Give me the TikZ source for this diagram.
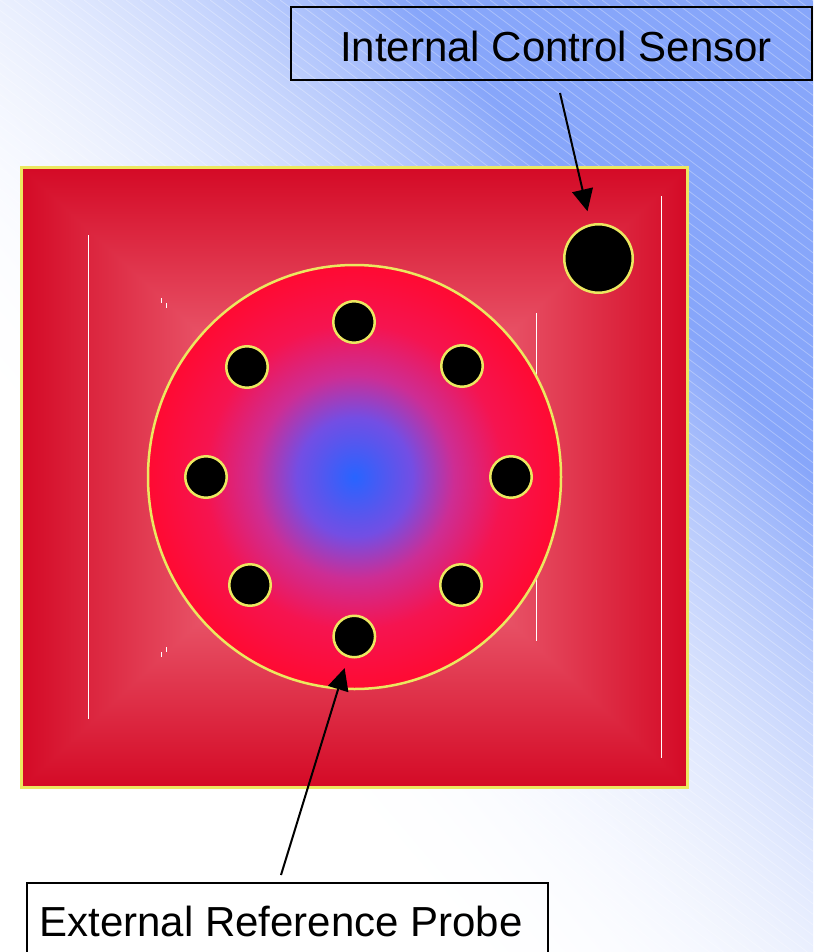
\documentclass[tikz,border=0pt]{standalone}
\usepackage{fontspec}
\setmainfont{Liberation Sans}
\usetikzlibrary{arrows.meta}
\definecolor{ylw}{RGB}{236,232,96}
\definecolor{cblue}{RGB}{40,100,255}
\definecolor{cviol}{RGB}{115,78,228}
\definecolor{cmag}{RGB}{205,45,148}
\definecolor{cpink}{RGB}{245,20,80}
\definecolor{cred}{RGB}{255,10,50}
\pgfdeclarefunctionalshading{bgsh}{\pgfpoint{-50bp}{-50bp}}{\pgfpoint{50bp}{50bp}}{}{
add 50 div 0.5 add dup 0 lt {pop 0} if dup 1 gt {pop 1} if dup dup mul exch sqrt mul
dup dup -0.02 mul 1 add 3 1 roll -0.35 mul 1 add 3 1 roll -0.47 mul 1 add 3 1 roll}
\pgfdeclarefunctionalshading{sqsh}{\pgfpoint{-50bp}{-50bp}}{\pgfpoint{50bp}{50bp}}{}{
abs exch abs 2 copy lt {exch} if pop 25 div dup 1 gt {pop 1} if
dup dup -0.463 mul 0.612 add 3 1 roll -0.518 mul 0.557 add 3 1 roll -0.141 mul 0.973 add 3 1 roll}
\pgfdeclareradialshading{discsh}{\pgfpoint{0bp}{0bp}}{color(0bp)=(cblue); color(7bp)=(cviol); color(12bp)=(cmag); color(18bp)=(cpink); color(25bp)=(cred); color(50bp)=(cred)}
\tikzset{
  hole/.style={circle, fill=black, draw=ylw, line width=2.5pt, minimum size=41.5pt, inner sep=0pt},
  sensorc/.style={circle, fill=black, draw=ylw, line width=2.5pt, minimum size=68.5pt, inner sep=0pt},
  lbl/.style={draw=black, line width=1.8pt, inner sep=0pt, text depth=0pt, font=\fontsize{42}{48}\selectfont},
  arr/.style={line width=2pt, -{Triangle[length=22pt, width=21pt]}},
  hatch/.style={white, line width=0.8pt, opacity=0.3},
  wline/.style={white, line width=1pt}
}
\begin{document}
\begin{tikzpicture}[x=1pt, y=-1pt]
\useasboundingbox (0,0) rectangle (813,952);
% background
\shade[shading=bgsh] (0,0) rectangle (813,952);
\begin{scope}
  \clip (0,0) rectangle (813,952);
  \foreach \i in {-95,...,58} \draw[hatch] (\i*14,0) -- ++(1300,975);
\end{scope}
% square block
\shade[shading=sqsh] (21.5,167.5) rectangle (687.5,787.5);
\draw[ylw, line width=3pt] (21.5,167.5) rectangle (687.5,787.5);
\draw[wline] (88,235) -- (88,719);
\draw[wline] (661,196) -- (661,758);
\draw[wline] (536,313) -- (536,641);
\draw[wline] (161,298) -- (161,303);
\draw[wline] (166,303) -- (166,308);
\draw[wline] (161,652) -- (161,657);
\draw[wline] (166,647) -- (166,652);
% disc
\shade[shading=discsh] (354.5,477) ellipse [x radius=206.5, y radius=212];
\draw[ylw, line width=2.5pt] (354.5,477) ellipse [x radius=206.5, y radius=212];
% holes
\node[hole] (h1) at (354,322) {};
\node[hole] (h2) at (247,367) {};
\node[hole] (h3) at (462,366) {};
\node[hole] (h4) at (206,477) {};
\node[hole] (h5) at (511,477) {};
\node[hole] (h6) at (250,585) {};
\node[hole] (h7) at (461,585) {};
\node[hole] (h8) at (354.3,636.5) {};
\node[sensorc] (sensor) at (598.5,258.5) {};
% labels
\node[lbl, minimum width=521pt, minimum height=73pt, text height=37pt] (ics) at (551.5,43.5) {\hspace*{9pt}Internal Control Sensor};
\node[lbl, minimum width=521pt, minimum height=76pt, text height=30pt] (erp) at (287.5,921) {External Reference Probe\hspace*{13pt}};
% connectors
\coordinate (icsT) at (560,93);
\coordinate (erpT) at (281,875);
\draw[arr, shorten >=13pt] (icsT) -- (sensor);
\draw[arr, shorten >=11pt] (erpT) -- (h8);
\end{tikzpicture}
\end{document}
